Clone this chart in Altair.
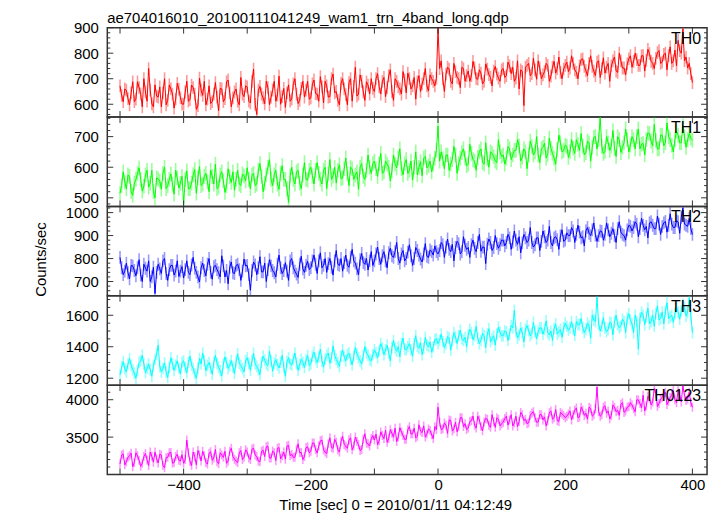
import altair as alt
import pandas as pd

TITLE = "ae704016010_20100111041249_wam1_trn_4band_long.qdp"
X_TITLE = "Time [sec] 0 = 2010/01/11 04:12:49"
Y_TITLE = "Counts/sec"
FONT = "Liberation Sans"

# samples read at t = -500, -495, ..., 400 s
times_a = list(range(-500, 401, 5))
# samples read at t = -497.5, -492.5, ..., 397.5 s
times_b = [t + 2.5 for t in range(-500, 400, 5)]

th0_a = [672, 610, 655, 598, 688, 620, 665, 590, 648, 740, 602, 676, 628, 590, 700, 615, 660, 585, 682, 625,
         600, 690, 618, 665, 580, 702, 635, 598, 672, 610, 685, 575, 660, 622, 695, 590, 648, 612, 705, 630,
         668, 605, 738, 560, 670, 625, 690, 598, 655, 612, 710, 630, 588, 676, 620, 700, 603, 662, 628, 690,
         625, 695, 640, 708, 605, 672, 630, 718, 650, 598, 700, 638, 685, 612, 745, 640, 690, 615, 675, 700,
         650, 720, 640, 705, 665, 735, 615, 690, 660, 728, 645, 700, 672, 620, 712, 680, 740, 652, 700, 672,
         900,
         770, 650, 745, 690, 760, 705, 665, 740, 712, 690, 768, 700, 735, 680, 758, 716, 672, 748, 702, 735,
         705, 765, 720, 690, 770, 735, 595, 752, 712, 780, 698, 742, 715, 760, 690, 745, 722, 785, 700, 752,
         728, 790, 735, 700, 775, 748, 712, 790, 730, 765, 705, 782, 745, 690, 770, 730, 800, 742, 715, 778,
         745, 800, 752, 790, 730, 815, 768, 740, 802, 760, 795, 735, 825, 770, 750, 810, 895, 785, 760, 685]
th0_b = [635, 660, 622, 645, 610, 688, 641, 700, 612, 655, 590, 632, 668, 645, 598, 676, 640, 620, 659, 601,
         648, 612, 675, 640, 595, 655, 690, 620, 603, 640, 628, 662, 610, 688, 645, 625, 660, 598, 640, 672,
         612, 690, 600, 655, 640, 602, 665, 628, 690, 636, 600, 662, 645, 612, 680, 640, 615, 690, 655, 620,
         680, 642, 612, 668, 690, 628, 700, 645, 615, 682, 660, 598, 700, 670, 632, 715, 648, 688, 640, 662,
         700, 668, 690, 630, 712, 650, 700, 668, 640, 695, 722, 660, 705, 688, 650, 700, 672, 715, 690, 702,
         740, 700, 718, 738, 680, 728, 700, 745, 690, 730, 712, 742, 698, 722, 690, 738, 705, 730, 718, 690,
         740, 712, 750, 745, 702, 660, 728, 745, 760, 720, 735, 770, 700, 728, 752, 710, 768, 740, 725, 738,
         765, 742, 760, 725, 750, 778, 732, 760, 748, 712, 770, 740, 722, 760, 750, 785, 725, 770, 742, 758,
         790, 768, 775, 752, 790, 772, 798, 760, 780, 810, 765, 800, 790, 760, 812, 850, 800, 770, 742, 720]

th1_a = [515, 585, 530, 570, 508, 560, 598, 522, 575, 535, 590, 500, 562, 528, 600, 540, 578, 512, 565, 548,
         482, 588, 530, 575, 515, 602, 545, 580, 520, 570, 610, 535, 585, 518, 595, 550, 525, 590, 540, 572,
         598, 530, 580, 545, 612, 520, 575, 625, 540, 590, 528, 605, 560, 485, 600, 545, 590, 530, 615, 558,
         600, 545, 615, 560, 590, 530, 625, 572, 548, 608, 565, 630, 540, 595, 575, 528, 612, 560, 640, 580,
         620, 570, 645, 585, 610, 555, 640, 598, 660, 575, 625, 590, 558, 650, 600, 572, 635, 605, 585, 630,
         735,
         650, 595, 640, 610, 668, 580, 630, 660, 605, 675, 625, 590, 650, 615, 680, 600, 645, 620, 690, 635,
         610, 668, 625, 655, 690, 620, 660, 595, 685, 640, 700, 615, 665, 630, 695, 645, 610, 705, 650, 672,
         632, 690, 645, 675, 710, 640, 685, 620, 698, 660, 762, 645, 700, 655, 720, 635, 690, 665, 725, 650,
         700, 660, 725, 675, 640, 712, 685, 740, 660, 705, 670, 745, 690, 650, 718, 680, 735, 665, 710, 688]
th1_b = [540, 552, 575, 520, 548, 580, 560, 538, 590, 548, 520, 565, 555, 580, 530, 560, 545, 590, 532, 570,
         560, 530, 548, 592, 565, 540, 570, 552, 590, 545, 530, 575, 555, 540, 568, 585, 560, 545, 578, 555,
         560, 575, 540, 590, 570, 548, 600, 560, 575, 545, 580, 560, 530, 572, 560, 585, 548, 575, 560, 590,
         572, 590, 580, 545, 600, 578, 560, 600, 590, 562, 595, 578, 600, 560, 585, 600, 570, 590, 600, 612,
         595, 612, 580, 620, 600, 588, 610, 630, 595, 612, 580, 620, 600, 575, 618, 630, 598, 620, 610, 655,
         620, 628, 640, 590, 625, 640, 612, 648, 630, 610, 645, 620, 632, 660, 610, 628, 650, 635, 615, 650,
         640, 630, 660, 640, 655, 670, 632, 650, 640, 668, 650, 640, 660, 678, 642, 662, 630, 658, 680, 655,
         668, 650, 662, 690, 655, 670, 648, 680, 665, 700, 690, 668, 652, 680, 670, 662, 700, 648, 680, 690,
         672, 690, 700, 660, 678, 690, 710, 670, 688, 660, 705, 680, 700, 672, 690, 705, 680, 700, 690, 695]

th2_a = [805, 730, 780, 712, 768, 725, 795, 700, 758, 790, 720, 648, 775, 735, 800, 705, 770, 728, 790, 745,
         715, 790, 730, 805, 740, 698, 780, 725, 800, 710, 770, 738, 812, 720, 690, 785, 735, 775, 705, 798,
         770, 662, 785, 730, 808, 742, 700, 795, 748, 720, 815, 735, 782, 705, 800, 745, 718, 810, 740, 788,
         760, 815, 735, 825, 770, 740, 800, 728, 835, 770, 745, 815, 762, 840, 780, 730, 822, 775, 750, 830,
         790, 850, 775, 830, 760, 845, 805, 870, 780, 835, 800, 860, 770, 848, 815, 785, 865, 805, 830, 855,
         820,
         870, 805, 885, 830, 790, 875, 820, 895, 840, 805, 880, 830, 905, 850, 778, 885, 835, 900, 845, 880,
         855, 905, 840, 920, 862, 825, 905, 870, 935, 850, 890, 835, 920, 870, 940, 855, 895, 840, 925, 880,
         900, 935, 870, 945, 890, 855, 935, 900, 955, 875, 920, 880, 955, 895, 930, 870, 960, 905, 880, 945,
         920, 960, 895, 975, 925, 890, 960, 930, 985, 905, 955, 915, 995, 935, 965, 910, 1020, 945, 975, 905]
th2_b = [760, 745, 738, 770, 748, 760, 728, 775, 745, 700, 762, 740, 755, 790, 735, 752, 770, 745, 722, 765,
         752, 740, 772, 758, 720, 760, 748, 775, 740, 765, 752, 720, 768, 748, 762, 738, 770, 752, 745, 768,
         730, 748, 772, 760, 742, 780, 752, 768, 738, 775, 760, 748, 745, 790, 760, 732, 775, 755, 770, 752,
         790, 775, 790, 760, 800, 778, 762, 790, 775, 800, 782, 770, 805, 790, 755, 795, 782, 800, 790, 770,
         820, 800, 812, 790, 825, 812, 830, 800, 820, 790, 828, 812, 800, 835, 798, 820, 810, 838, 815, 830,
         835, 860, 850, 840, 862, 848, 865, 830, 858, 848, 860, 845, 870, 832, 850, 862, 870, 848, 865, 860,
         880, 870, 890, 872, 880, 895, 868, 890, 880, 870, 860, 890, 875, 895, 880, 870, 890, 882, 900, 875,
         912, 900, 920, 905, 915, 895, 920, 910, 925, 902, 900, 918, 905, 925, 910, 900, 930, 915, 900, 925,
         940, 935, 950, 930, 945, 940, 955, 945, 930, 950, 940, 962, 945, 950, 935, 960, 980, 950, 940, 930]

th3_a = [1220, 1305, 1240, 1325, 1255, 1200, 1300, 1345, 1235, 1290, 1212, 1318, 1410, 1240, 1298, 1205, 1330, 1250, 1310, 1228,
         1310, 1235, 1340, 1262, 1200, 1325, 1360, 1248, 1300, 1225, 1345, 1270, 1215, 1335, 1262, 1312, 1230, 1355, 1280, 1240,
         1330, 1250, 1358, 1275, 1222, 1340, 1290, 1370, 1245, 1318, 1265, 1345, 1212, 1330, 1285, 1360, 1250, 1320, 1268, 1345,
         1290, 1365, 1300, 1385, 1270, 1345, 1295, 1405, 1320, 1275, 1380, 1310, 1360, 1285, 1395, 1330, 1290, 1400, 1345, 1310,
         1380, 1330, 1420, 1350, 1410, 1310, 1440, 1372, 1335, 1455, 1380, 1420, 1340, 1470, 1390, 1350, 1460, 1400, 1365, 1445,
         1420,
         1480, 1395, 1465, 1378, 1490, 1420, 1505, 1440, 1400, 1510, 1445, 1530, 1420, 1485, 1395, 1515, 1450, 1410, 1525, 1470,
         1500, 1440, 1535, 1632, 1455, 1520, 1430, 1535, 1470, 1555, 1450, 1520, 1480, 1565, 1475, 1440, 1545, 1495, 1460, 1550,
         1505, 1560, 1470, 1540, 1580, 1490, 1550, 1455, 1570, 1715, 1500, 1585, 1495, 1555, 1475, 1600, 1520, 1575, 1490, 1610,
         1545, 1600, 1385, 1620, 1540, 1645, 1560, 1530, 1660, 1580, 1545, 1680, 1590, 1555, 1650, 1575, 1670, 1595, 1712, 1490]
th3_b = [1270, 1260, 1290, 1280, 1232, 1250, 1310, 1290, 1262, 1255, 1280, 1350, 1275, 1262, 1240, 1270, 1290, 1282, 1265, 1300,
         1268, 1300, 1285, 1230, 1262, 1290, 1310, 1282, 1265, 1300, 1295, 1248, 1290, 1300, 1280, 1270, 1305, 1295, 1262, 1310,
         1295, 1310, 1290, 1255, 1300, 1315, 1280, 1310, 1295, 1285, 1300, 1270, 1305, 1290, 1320, 1295, 1288, 1300, 1315, 1280,
         1340, 1325, 1335, 1310, 1322, 1360, 1330, 1345, 1300, 1340, 1335, 1350, 1320, 1340, 1355, 1310, 1345, 1360, 1320, 1350,
         1360, 1375, 1392, 1380, 1360, 1395, 1390, 1400, 1420, 1385, 1400, 1380, 1420, 1402, 1425, 1390, 1410, 1430, 1400, 1450,
         1440, 1432, 1420, 1455, 1438, 1462, 1470, 1450, 1460, 1478, 1490, 1472, 1455, 1440, 1470, 1480, 1432, 1470, 1480, 1492,
         1470, 1495, 1480, 1520, 1500, 1475, 1490, 1510, 1502, 1485, 1495, 1500, 1520, 1510, 1490, 1500, 1515, 1480, 1510, 1520,
         1530, 1520, 1510, 1560, 1540, 1520, 1510, 1530, 1600, 1560, 1545, 1530, 1520, 1510, 1550, 1560, 1540, 1530, 1560, 1580,
         1570, 1490, 1560, 1580, 1600, 1590, 1545, 1600, 1610, 1570, 1620, 1625, 1580, 1600, 1610, 1620, 1630, 1650, 1620, 1600]

th0123_a = [3140, 3275, 3170, 3250, 3105, 3290, 3190, 3150, 3280, 3120, 3245, 3300, 3155, 3260, 3090, 3230, 3295, 3160, 3270, 3180,
            3150, 3460, 3175, 3300, 3130, 3265, 3310, 3160, 3285, 3190, 3335, 3145, 3260, 3310, 3180, 3350, 3205, 3160, 3320, 3230,
            3300, 3200, 3350, 3240, 3170, 3325, 3370, 3220, 3315, 3185, 3360, 3250, 3205, 3390, 3270, 3230, 3410, 3295, 3240, 3370,
            3310, 3420, 3290, 3450, 3330, 3280, 3490, 3350, 3430, 3300, 3510, 3380, 3460, 3330, 3500, 3400, 3335, 3545, 3410, 3480,
            3460, 3400, 3570, 3480, 3430, 3600, 3500, 3440, 3625, 3520, 3470, 3640, 3545, 3490, 3665, 3560, 3500, 3610, 3530, 3640,
            3900,
            3600, 3690, 3550, 3720, 3610, 3570, 3760, 3640, 3600, 3710, 3780, 3620, 3730, 3585, 3750, 3660, 3800, 3630, 3740, 3680,
            3750, 3660, 3800, 3690, 3640, 3830, 3720, 3680, 3790, 3840, 3700, 3800, 3730, 3650, 3825, 3740, 3870, 3710, 3810, 3760,
            3810, 3730, 3860, 3760, 3900, 3790, 3740, 3880, 3800, 4170, 3780, 3900, 3820, 3745, 3930, 3840, 3790, 3960, 3850, 3910,
            3930, 3840, 3995, 3895, 3850, 4045, 3930, 4150, 3910, 4010, 4080, 3935, 4030, 4120, 3960, 4060, 4185, 3990, 4100, 3900]
th0123_b = [3260, 3130, 3230, 3285, 3160, 3250, 3110, 3240, 3195, 3300, 3165, 3210, 3270, 3120, 3225, 3290, 3150, 3240, 3190, 3265,
            3200, 3290, 3120, 3240, 3320, 3180, 3250, 3140, 3305, 3220, 3170, 3290, 3230, 3150, 3310, 3240, 3180, 3290, 3200, 3330,
            3220, 3340, 3260, 3180, 3310, 3240, 3380, 3220, 3290, 3350, 3210, 3300, 3380, 3250, 3230, 3330, 3290, 3200, 3360, 3290,
            3420, 3330, 3380, 3460, 3300, 3410, 3360, 3470, 3330, 3440, 3400, 3350, 3490, 3380, 3440, 3320, 3470, 3420, 3380, 3520,
            3540, 3450, 3520, 3590, 3480, 3550, 3620, 3500, 3570, 3470, 3600, 3540, 3620, 3510, 3580, 3650, 3540, 3590, 3480, 3600,
            3700, 3610, 3660, 3730, 3580, 3700, 3640, 3760, 3680, 3620, 3720, 3660, 3780, 3640, 3700, 3740, 3630, 3710, 3760, 3650,
            3700, 3780, 3730, 3650, 3780, 3710, 3800, 3740, 3690, 3820, 3760, 3700, 3800, 3770, 3720, 3850, 3760, 3720, 3830, 3790,
            3780, 3850, 3800, 3890, 3770, 3860, 3820, 3900, 3780, 3880, 3840, 3800, 3920, 3850, 3790, 3900, 3860, 3940, 3830, 3900,
            3960, 3880, 4000, 3950, 4060, 3920, 4020, 3970, 4080, 3950, 4030, 4100, 3980, 4060, 4000, 4120, 3970, 4060, 4010, 3960]

# approximate 1-sigma error bar half-lengths per band
errors = [25, 24, 28, 37, 60]

X_DOMAIN = [-520, 423]
x_major = [-500, -400, -300, -200, -100, 0, 100, 200, 300, 400]
x_labels = [-400, -200, 0, 200, 400]

panels = [
    dict(name="TH0", a=th0_a, b=th0_b, color="#ff0000", err=errors[0], domain=[550, 900],
         major=[600, 700, 800, 900],
         minor=[560, 580, 620, 640, 660, 680, 720, 740, 760, 780, 820, 840, 860, 880]),
    dict(name="TH1", a=th1_a, b=th1_b, color="#00ff00", err=errors[1], domain=[472, 764],
         major=[500, 600, 700],
         minor=[480, 520, 540, 560, 580, 620, 640, 660, 680, 720, 740, 760]),
    dict(name="TH2", a=th2_a, b=th2_b, color="#0000ff", err=errors[2], domain=[638, 1027],
         major=[700, 800, 900, 1000],
         minor=[640, 660, 680, 720, 740, 760, 780, 820, 840, 860, 880, 920, 940, 960, 980, 1020]),
    dict(name="TH3", a=th3_a, b=th3_b, color="#00ffff", err=errors[3], domain=[1156, 1724],
         major=[1200, 1400, 1600],
         minor=[1250, 1300, 1350, 1450, 1500, 1550, 1650, 1700]),
    dict(name="TH0123", a=th0123_a, b=th0123_b, color="#ff00ff", err=errors[4], domain=[3000, 4195],
         major=[3500, 4000],
         minor=[3100, 3200, 3300, 3400, 3600, 3700, 3800, 3900, 4100]),
]

W, H = 604, 90
TICK = "#333333"


def make_panel(p, bottom=False, ytitle=False, top=False):
    df = pd.concat([pd.DataFrame({"t": times_a, "c": p["a"]}),
                    pd.DataFrame({"t": times_b, "c": p["b"]})]).sort_values("t").reset_index(drop=True)
    df["lo"] = df["c"] - p["err"]
    df["hi"] = df["c"] + p["err"]
    xs = alt.Scale(domain=X_DOMAIN, nice=False, zero=False)
    ys = alt.Scale(domain=p["domain"], nice=False, zero=False)

    if bottom:
        xaxis = alt.Axis(values=x_labels, format="d", title=X_TITLE, ticks=False, domain=False, grid=False,
                         labelFontSize=15, labelPadding=3, labelFont=FONT, labelColor="black",
                         labelFlush=False, titleFontSize=15, titleFont=FONT, titleColor="black",
                         titleFontWeight="normal", titleX=290, titleY=35, titleBaseline="alphabetic")
    else:
        xaxis = None

    yargs = dict(values=p["major"], format="d", ticks=False, domain=False, grid=False, labelFontSize=15,
                 labelPadding=9, labelFont=FONT, labelColor="black")
    if ytitle:
        yargs.update(title=Y_TITLE, titleFontSize=15, titleFont=FONT, titleColor="black",
                     titleFontWeight="normal", titleX=-59, titleY=53, titleAngle=-90,
                     titleAlign="center", titleBaseline="bottom")
    else:
        yargs.update(title="")
    yaxis = alt.Axis(**yargs)

    def X(field):
        return alt.X(field, scale=xs, axis=xaxis)

    def Y(field):
        return alt.Y(field, scale=ys, axis=yaxis)

    errbars = alt.Chart(df).mark_rule(color=p["color"], opacity=0.4, strokeWidth=1.6, clip=True).encode(
        x=X("t:Q"), y=Y("lo:Q"), y2="hi:Q")
    line = alt.Chart(df).mark_line(color=p["color"], strokeWidth=1, clip=True).encode(
        x=X("t:Q"), y=Y("c:Q"))

    xt = pd.DataFrame({"t": x_major})
    xt_top = alt.Chart(xt).mark_rule(color=TICK, strokeWidth=1).encode(
        x=X("t:Q"), y=alt.value(0), y2=alt.value(6))
    xt_bot = alt.Chart(xt).mark_rule(color=TICK, strokeWidth=1).encode(
        x=X("t:Q"), y=alt.value(H - 6), y2=alt.value(H))

    ymaj = pd.DataFrame({"v": p["major"]})
    ymin = pd.DataFrame({"v": p["minor"]})
    yl_maj = alt.Chart(ymaj).mark_rule(color=TICK, strokeWidth=1).encode(
        y=Y("v:Q"), x=alt.value(0), x2=alt.value(6))
    yr_maj = alt.Chart(ymaj).mark_rule(color=TICK, strokeWidth=1).encode(
        y=Y("v:Q"), x=alt.value(W - 6), x2=alt.value(W))
    yl_min = alt.Chart(ymin).mark_rule(color=TICK, strokeWidth=1).encode(
        y=Y("v:Q"), x=alt.value(0), x2=alt.value(3))
    yr_min = alt.Chart(ymin).mark_rule(color=TICK, strokeWidth=1).encode(
        y=Y("v:Q"), x=alt.value(W - 3), x2=alt.value(W))

    label = alt.Chart(pd.DataFrame({"name": [p["name"]]})).mark_text(
        align="right", baseline="alphabetic", fontSize=16, font=FONT, color="black").encode(
        x=alt.value(W - 6), y=alt.value(16), text="name:N")

    layer = alt.layer(errbars, line, xt_top, xt_bot, yl_maj, yr_maj, yl_min, yr_min, label).properties(
        width=W, height=H)
    if top:
        layer = layer.properties(title=alt.TitleParams(
            TITLE, anchor="start", frame="group", fontSize=15, font=FONT, fontWeight="normal",
            color="black", offset=-5))
    return layer


charts = []
for i, p in enumerate(panels):
    charts.append(make_panel(p, bottom=(i == 4), ytitle=(i == 2), top=(i == 0)))

chart = alt.vconcat(*charts, spacing=0, bounds="flush").properties(
    padding={"left": 25, "top": 0, "right": 5, "bottom": 2}
).configure_view(stroke="#333333", strokeWidth=1.5)

chart.save("out.html", embed_options={"renderer": "svg", "actions": False})
